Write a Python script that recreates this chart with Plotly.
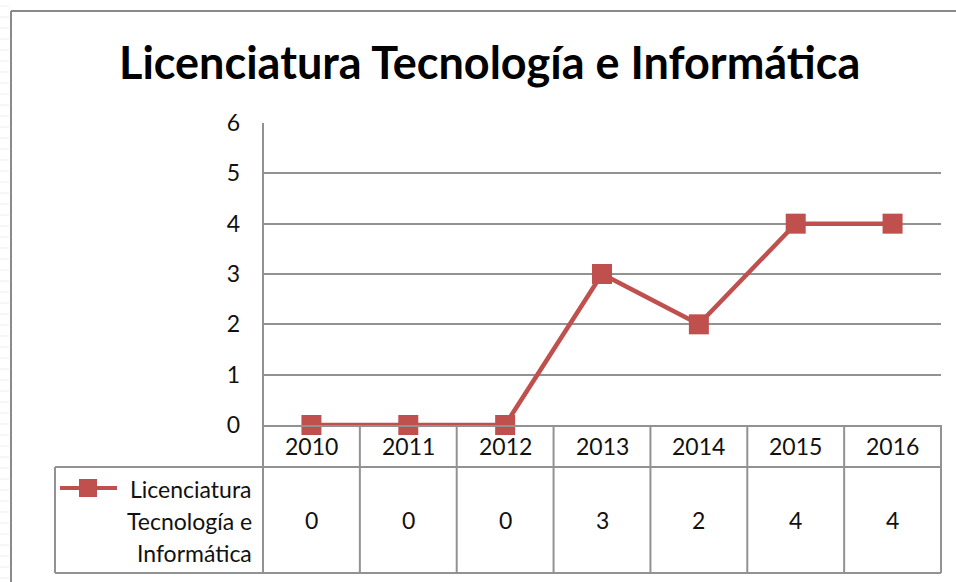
import plotly.graph_objects as go

# ---- data ----
years = ["2010", "2011", "2012", "2013", "2014", "2015", "2016"]
values = [0, 0, 0, 3, 2, 4, 4]
series_name = "Licenciatura Tecnología e Informática"
legend_lines = ["Licenciatura", "Tecnología e", "Informática"]
y_ticks = [0, 1, 2, 3, 4, 5, 6]

W, H = 956, 582
RED = "#C0504D"
GRAY = "#929292"
TXT = "#111111"
FONT = "Lato"
FS = 23

def px(x):
    return x / W

def py(y):
    return 1 - y / H

# plot area pixel box
L, R, T, B = 263, 941, 123, 425
HEAD_B, TAB_B, LEG_L = 467, 573, 55

fig = go.Figure()
fig.add_trace(go.Scatter(
    x=list(range(len(years))), y=values, mode="lines+markers",
    line=dict(color=RED, width=4.5),
    marker=dict(symbol="square", size=20, color=RED),
    cliponaxis=False, showlegend=False, name=series_name,
))

def pline(x0, y0, x1, y1, color=GRAY, width=2):
    return dict(type="line", xref="paper", yref="paper",
                x0=px(x0), x1=px(x1), y0=py(y0), y1=py(y1),
                line=dict(color=color, width=width))

shapes = []
# faint spreadsheet rows at far left
for yy in range(6, H, 11):
    shapes.append(pline(0, yy, 9, yy, "#eeeeee", 1))
# outer chart border (top and left edges visible)
shapes.append(pline(11, 11, W, 11, "#8a8a8a", 2))
shapes.append(pline(11, 11, 11, H, "#8a8a8a", 2))
# left axis line extended down through the table
shapes.append(pline(L, T, L, TAB_B))
# right border of table
shapes.append(pline(R, B, R, TAB_B))
# vertical separators between categories (through library x scale)
for i in range(1, len(years)):
    shapes.append(dict(type="line", xref="x", yref="paper",
                       x0=i - 0.5, x1=i - 0.5, y0=py(B), y1=py(TAB_B),
                       line=dict(color=GRAY, width=2)))
# table horizontal lines
for yy in (HEAD_B, TAB_B):
    shapes.append(pline(LEG_L, yy, R, yy))
# legend cell left border
shapes.append(pline(LEG_L, HEAD_B, LEG_L, TAB_B))
# legend key (line + square)
shapes.append(pline(60, 488, 117, 488, RED, 4))
shapes.append(dict(type="rect", xref="paper", yref="paper",
                   x0=px(79), x1=px(97), y0=py(479), y1=py(497),
                   fillcolor=RED, line=dict(width=0)))

annotations = []
annotations.append(dict(text="<b>" + series_name + "</b>", xref="paper", yref="paper",
                        x=px(489), y=py(62), xanchor="center", yanchor="middle",
                        showarrow=False, font=dict(family=FONT, size=45, color="#000")))
for i, (yr, v) in enumerate(zip(years, values)):
    annotations.append(dict(text=yr, xref="x", yref="paper", x=i, y=py(446),
                            xanchor="center", yanchor="middle", showarrow=False,
                            font=dict(family=FONT, size=FS, color=TXT)))
    annotations.append(dict(text=str(v), xref="x", yref="paper", x=i, y=py(520),
                            xanchor="center", yanchor="middle", showarrow=False,
                            font=dict(family=FONT, size=FS, color=TXT)))
for k, t in enumerate(legend_lines):
    annotations.append(dict(text=t, xref="paper", yref="paper", x=px(254),
                            y=py(489 + 32 * k), xanchor="right", yanchor="middle",
                            showarrow=False,
                            font=dict(family=FONT, size=FS, color=TXT)))

fig.update_layout(
    width=W, height=H, margin=dict(l=0, r=0, t=0, b=0, pad=0, autoexpand=False),
    paper_bgcolor="white", plot_bgcolor="white",
    shapes=shapes, annotations=annotations, showlegend=False,
    xaxis=dict(domain=[px(L), px(R)], range=[-0.5, len(years) - 0.5],
               showgrid=False, zeroline=False, showline=True, linecolor=GRAY,
               linewidth=2, showticklabels=False, ticks="", fixedrange=True,
               automargin=False),
    yaxis=dict(domain=[py(B), py(T)], range=[0, 6], tickvals=y_ticks,
               showgrid=True, gridcolor=GRAY, gridwidth=2, zeroline=False,
               showline=False, ticks="", ticklabelstandoff=22, automargin=False,
               tickfont=dict(family=FONT, size=FS, color=TXT), fixedrange=True),
)

fig.write_html("out.html", config={"displayModeBar": False},
               post_script="document.body.style.margin='0';document.body.style.overflow='hidden';")
